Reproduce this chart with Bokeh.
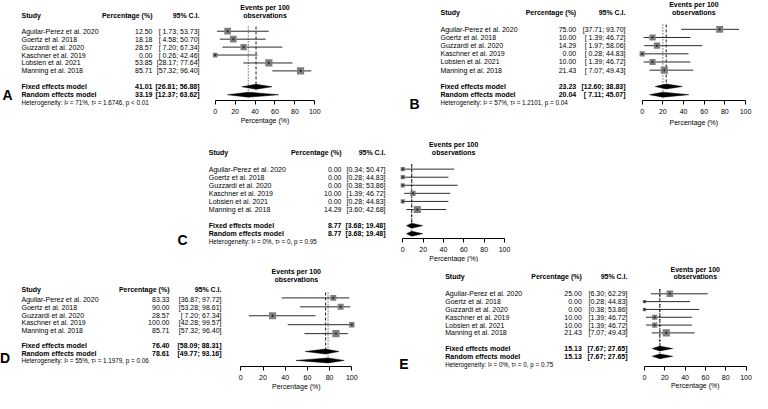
import numpy as np
from bokeh.plotting import figure
from bokeh.models import Range1d, LinearAxis, FixedTicker, Spacer, Grid
from bokeh.layouts import row, column
from bokeh.core.properties import value
from bokeh.embed import file_html
from bokeh.resources import INLINE

# ---------------- data ----------------
studies = ["Aguilar-Perez et al. 2020", "Goertz et al. 2018", "Guzzardi et al. 2020",
           "Kaschner et al. 2019", "Lobsien et al. 2021", "Manning et al. 2018"]
studies_D = ["Aguilar-Perez et al. 2020", "Goertz et al. 2018", "Guzzardi et al. 2020",
             "Kaschner et al. 2019", "Manning et al. 2018"]
ticks = [0, 20, 40, 60, 80, 100]

A_est = [12.50, 18.18, 28.57, 0.00, 53.85, 85.71]
A_lo = [1.73, 4.58, 7.20, 0.26, 28.17, 57.32]
A_hi = [53.73, 50.70, 67.34, 42.46, 77.64, 96.40]
A_w = [17.7, 17.7, 15.2, 9.0, 20.2, 20.2]
A_fixed = [41.01, 26.81, 56.88]
A_random = [33.19, 12.37, 63.62]
A_het = "Heterogeneity: I² = 71%, τ² = 1.6746, p < 0.01"

B_est = [75.00, 10.00, 14.29, 0.00, 10.00, 21.43]
B_lo = [37.71, 1.39, 1.97, 0.28, 1.39, 7.07]
B_hi = [93.70, 46.72, 58.06, 44.83, 46.72, 49.43]
B_w = [19.8, 15.9, 15.9, 11.0, 15.9, 21.6]
B_fixed = [23.23, 12.60, 38.83]
B_random = [20.04, 7.11, 45.07]
B_het = "Heterogeneity: I² = 57%, τ² = 1.2101, p = 0.04"

C_est = [0.00, 0.00, 0.00, 10.00, 0.00, 14.29]
C_lo = [0.34, 0.28, 0.38, 1.39, 0.28, 3.60]
C_hi = [50.47, 44.83, 53.86, 46.72, 44.83, 42.68]
C_w = [11.9, 11.9, 11.9, 18.7, 11.9, 33.6]
C_fixed = [8.77, 3.68, 19.48]
C_random = [8.77, 3.68, 19.48]
C_het = "Heterogeneity: I² = 0%, τ² = 0, p = 0.95"

D_est = [83.33, 90.00, 28.57, 100.00, 85.71]
D_lo = [36.87, 53.28, 7.20, 42.28, 57.32]
D_hi = [97.72, 98.61, 67.34, 99.57, 96.40]
D_w = [17.3, 17.3, 25.5, 14.4, 25.5]
D_fixed = [76.40, 58.09, 88.31]
D_random = [78.61, 49.77, 93.16]
D_het = "Heterogeneity: I² = 55%, τ² = 1.1979, p = 0.06"

E_est = [25.00, 0.00, 0.00, 10.00, 10.00, 21.43]
E_lo = [6.30, 0.28, 0.38, 1.39, 1.39, 7.07]
E_hi = [62.29, 44.83, 53.86, 46.72, 46.72, 49.43]
E_w = [25.3, 6.7, 6.7, 15.7, 15.7, 29.8]
E_fixed = [15.13, 7.67, 27.65]
E_random = [15.13, 7.67, 27.65]
E_het = "Heterogeneity: I² = 0%, τ² = 0, p = 0.75"

# ---------------- layout (pixel geometry of each panel, reference pixels) ----------------
KY = 393.0 / 409.0   # vertical squeeze so the whole page fits

LAY = {
    "A": dict(box=(0, 0, 387, 131), dx=0, x0=214.7, x100=314.3, y_first=32.3, sp=8.34,
              y_axis=105, y_axlab=126, x_study=21, x_pct=152, x_ci=199,
              t1=-2, t2=-1, hdr=-1, letter=(7, 99.3)),
    "B": dict(box=(387, 0, 752, 131), dx=0, x0=641.7, x100=745, y_first=30, sp=8.5,
              y_axis=104, y_axlab=126.7, x_study=440, x_pct=575.7, x_ci=625,
              t1=-2, t2=-1, hdr=-1, letter=(414, 107.5)),
    "C": dict(box=(165, 131, 600, 262), dx=0, x0=402.3, x100=504, y_first=175.5, sp=8.4,
              y_axis=247.5, y_axlab=268, x_study=208.3, x_pct=341, x_ci=385,
              t1=-2, t2=-1, hdr=-1, letter=(182, 249.5)),
    "D": dict(box=(0, 262, 392, 393), dx=0, x0=240.3, x100=351.3, y_first=311.5, sp=7.95,
              g_first=309.5, g_sp=9.3,
              y_axis=381, y_axlab=401.5, x_study=21, x_pct=169, x_ci=221,
              t1=-2.71, t2=-1.62, hdr=-0.35, letter=(4.5, 372)),
    "E": dict(box=(392, 262, 752, 393), dx=-13, x0=657, x100=758.5, y_first=306.5, sp=8.45,
              y_axis=385.5, y_axlab=405.3, x_study=457.7, x_pct=594.3, x_ci=640,
              t1=-2.14, t2=-1.15, hdr=-1.15, letter=(416.5, 382)),
}

FONT = value("Liberation Sans")


def fmt_ci(lo_all, hi_all):
    wl = max(len(f"{v:.2f}") for v in lo_all)
    wh = max(len(f"{v:.2f}") for v in hi_all)
    return [f"[{l:>{wl}.2f}; {h:>{wh}.2f}]" for l, h in zip(lo_all, hi_all)]


def make_panel(letter, names, est, lo, hi, w, fixed, rnd, het, L):
    left, top, right, bottom = L["box"]
    W, H = right - left, bottom - top
    s = (L["x100"] - L["x0"]) / 100.0
    p0 = L["x0"] + L["dx"] - left
    y_first, sp = L["y_first"] * KY, L["sp"] * KY
    g_first = L.get("g_first", L["y_first"]) * KY
    g_sp = L.get("g_sp", L["sp"]) * KY

    def X(px):
        return (px - L["x0"]) / s

    def R(py):  # page pixel (already squeezed) -> text-row units
        return (py - y_first) / sp + 1

    def G(r):   # graph row -> text-row units
        return R(g_first + (r - 1) * g_sp)

    mb = int(round(bottom - L["y_axis"] * KY))
    y_top = R(top)
    y_bot = R(bottom - mb)

    p = figure(width=W, height=H, x_range=Range1d(-p0 / s, (W - p0) / s),
               y_range=Range1d(y_bot, y_top), output_backend="svg", toolbar_location=None,
               title=None, min_border=0, min_border_left=0, min_border_right=0,
               min_border_top=0, min_border_bottom=mb,
               x_axis_location=None, y_axis_location=None, outline_line_color=None)
    p.background_fill_color = "white"
    p.border_fill_color = "white"
    for r in list(p.center):
        if isinstance(r, Grid):
            r.visible = False

    n = len(names)
    rows = list(range(1, n + 1))
    rf, rr, rh = n + 2, n + 3, n + 4
    grow = [G(r) for r in rows]
    gf, gr = G(rf), G(rr)
    gtop = G(0.4)

    # reference lines (fixed: dashed, random: dotted)
    p.segment(x0=[fixed[0]], y0=[gtop], x1=[fixed[0]], y1=[gf + 0.3],
              line_color="black", line_width=0.9, line_dash="3 2")
    p.segment(x0=[rnd[0]], y0=[gtop], x1=[rnd[0]], y1=[gr + 0.3],
              line_color="black", line_width=0.9, line_dash="1 2")

    # CI lines, squares
    p.segment(x0=lo, y0=grow, x1=hi, y1=grow, line_color="#2b2b2b", line_width=1)
    wmax = max(w)
    sizes = [7.2 * np.sqrt(v / wmax) for v in w]
    p.scatter(x=est, y=grow, size=sizes, marker="square", fill_color="#7f7f7f",
              line_color=None)
    p.scatter(x=est, y=grow, size=2.5, marker="cross", line_color="black", line_width=0.6)

    # diamonds
    h = 2.5 / sp
    p.patches(xs=[[fixed[1], fixed[0], fixed[2], fixed[0]], [rnd[1], rnd[0], rnd[2], rnd[0]]],
              ys=[[gf, gf - h, gf, gf + h], [gr, gr - h, gr, gr + h]],
              fill_color="black", line_color="black", line_width=0.5)

    # axis
    ax = LinearAxis(ticker=FixedTicker(ticks=ticks), bounds=(0, 100),
                    major_tick_out=4, major_tick_in=0, minor_tick_out=0, minor_tick_in=0,
                    major_label_standoff=4, major_label_text_font_size="7px",
                    major_label_text_font="Liberation Sans", major_label_text_color="black",
                    axis_line_color="black", major_tick_line_color="black", axis_line_width=1)
    p.add_layout(ax, "below")

    common = dict(text_font=FONT, text_baseline="middle", level="overlay", text_color="black")

    # text table
    ci_txt = fmt_ci(lo + [fixed[1], rnd[1]], hi + [fixed[2], rnd[2]])
    p.text(x=[X(L["x_study"])] * n, y=rows, text=names, text_font_size="7px",
           text_align="left", **common)
    p.text(x=[X(L["x_pct"])] * n, y=rows, text=[f"{v:.2f}" for v in est],
           text_font_size="7px", text_align="right", **common)
    p.text(x=[X(L["x_ci"])] * n, y=rows, text=ci_txt[:n], text_font_size="7px",
           text_align="right", **common)
    p.text(x=[X(L["x_study"])] * 2, y=[rf, rr], text=["Fixed effects model", "Random effects model"],
           text_font_size="7px", text_font_style="bold", text_align="left", **common)
    p.text(x=[X(L["x_pct"])] * 2, y=[rf, rr], text=[f"{fixed[0]:.2f}", f"{rnd[0]:.2f}"],
           text_font_size="7px", text_font_style="bold", text_align="right", **common)
    p.text(x=[X(L["x_ci"])] * 2, y=[rf, rr], text=ci_txt[n:],
           text_font_size="7px", text_font_style="bold", text_align="right", **common)
    p.text(x=[X(L["x_study"])], y=[rh], text=[het], text_font_size="6.3px",
           text_align="left", **common)

    # headers
    p.text(x=[X(L["x_study"])], y=[L["hdr"]], text=["Study"], text_font_size="7px",
           text_font_style="bold", text_align="left", **common)
    p.text(x=[X(L["x_pct"]), X(L["x_ci"])], y=[L["hdr"], L["hdr"]],
           text=["Percentage (%)", "95% C.I."], text_font_size="7px",
           text_font_style="bold", text_align="right", **common)
    p.text(x=[50, 50], y=[L["t1"], L["t2"]], text=["Events per 100", "observations"],
           text_font_size="7px", text_font_style="bold", text_align="center", **common)

    # axis label and panel letter
    p.text(x=[50], y=[R(L["y_axlab"] * KY)], text=["Percentage (%)"], text_font_size="7px",
           text_align="center", **common)
    p.text(x=[X(L["letter"][0])], y=[R(L["letter"][1] * KY)], text=[letter],
           text_font_size="14px", text_font_style="bold", text_align="center", **common)
    return p


pA = make_panel("A", studies, A_est, A_lo, A_hi, A_w, A_fixed, A_random, A_het, LAY["A"])
pB = make_panel("B", studies, B_est, B_lo, B_hi, B_w, B_fixed, B_random, B_het, LAY["B"])
pC = make_panel("C", studies, C_est, C_lo, C_hi, C_w, C_fixed, C_random, C_het, LAY["C"])
pD = make_panel("D", studies_D, D_est, D_lo, D_hi, D_w, D_fixed, D_random, D_het, LAY["D"])
pE = make_panel("E", studies, E_est, E_lo, E_hi, E_w, E_fixed, E_random, E_het, LAY["E"])

layout = column(
    row(pA, pB, spacing=0),
    row(Spacer(width=165, height=131), pC, spacing=0),
    row(pD, pE, spacing=0),
    spacing=0,
)

open("out.html", "w").write(file_html(layout, INLINE))
